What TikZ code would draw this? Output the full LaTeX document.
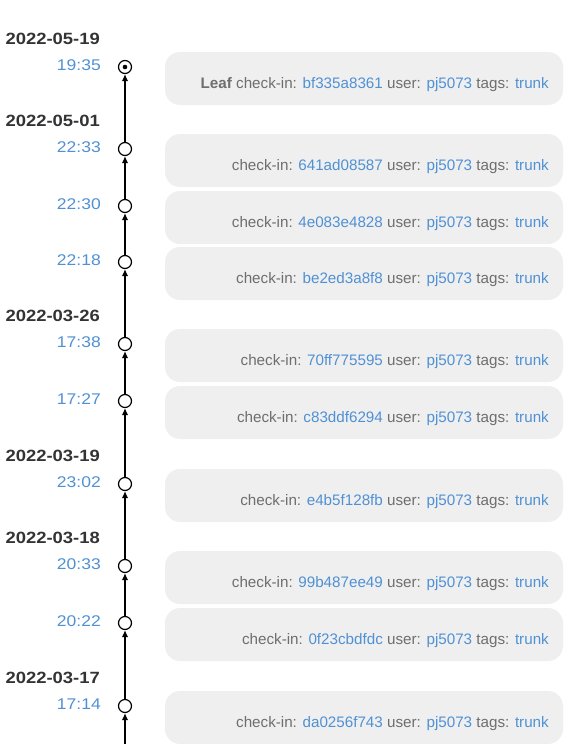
\documentclass[tikz,border=0pt]{standalone}
\usepackage{fontspec}
\setmainfont{Liberation Sans}
\newfontfamily\datefont[FakeStretch=1.13]{Liberation Sans}
\usetikzlibrary{arrows.meta}
\definecolor{linkblue}{RGB}{80,145,212}
\definecolor{txtgray}{RGB}{110,110,110}
\definecolor{datedark}{RGB}{51,51,51}
\definecolor{boxfill}{RGB}{239,239,239}
\tikzset{
  commit/.style={circle,draw=black,fill=white,line width=1.2pt,minimum size=13pt,inner sep=0pt},
  rowbox/.style={fill=boxfill,rounded corners=15pt,minimum width=398pt,minimum height=53pt,inner sep=0pt},
  rowtext/.style={anchor=base east,inner sep=0pt,font=\fontsize{15.2}{18}\selectfont,text=txtgray},
  timetext/.style={anchor=base east,inner sep=0pt,font=\datefont\fontsize{15.5}{18}\selectfont,text=linkblue},
  datetext/.style={anchor=base east,inner sep=0pt,font=\datefont\bfseries\fontsize{16.3}{19}\selectfont,text=datedark},
  link/.style={line width=1.8pt,-{Latex[length=7pt,width=6.5pt]}}
}
\newcommand{\hl}[1]{\textcolor{linkblue}{#1}}
\begin{document}
\begin{tikzpicture}[x=1pt,y=-1pt]
\useasboundingbox (0,0) rectangle (575,744);
\foreach \i/\cy/\t/\h in {1/67/19:35/bf335a8361,2/149/22:33/641ad08587,3/206/22:30/4e083e4828,4/262/22:18/be2ed3a8f8,5/344/17:38/70ff775595,6/401/17:27/c83ddf6294,7/484/23:02/e4b5f128fb,8/566/20:33/99b487ee49,9/623/20:22/0f23cbdfdc,10/706/17:14/da0256f743}{
  \node[rowbox] (b\i) at (364,\cy+11.5) {};
  \node[timetext] (tm\i) at (101,\cy+3) {\t};
  \node[commit] (c\i) at (125,\cy) {};
  \ifnum\i=1
    \node[rowtext] (t\i) at (549,\cy+21) {\textbf{Leaf} check-in: \hl{\h} user: \hl{pj5073} tags: \hl{trunk}};
  \else
    \node[rowtext] (t\i) at (549,\cy+21) {check-in: \hl{\h} user: \hl{pj5073} tags: \hl{trunk}};
  \fi
}
\fill (c1) circle (2.3pt);
\foreach \i/\cy/\d in {1/67/2022-05-19,2/149/2022-05-01,5/344/2022-03-26,7/484/2022-03-19,8/566/2022-03-18,10/706/2022-03-17}{
  \node[datetext] (d\i) at (100,\cy-22.5) {\d};
}
\foreach \a/\b in {2/1,3/2,4/3,5/4,6/5,7/6,8/7,9/8,10/9}{
  \draw[link] (c\a) -- (c\b);
}
\coordinate (bot) at (125,744);
\draw[link] (bot) -- (c10);
\end{tikzpicture}
\end{document}
